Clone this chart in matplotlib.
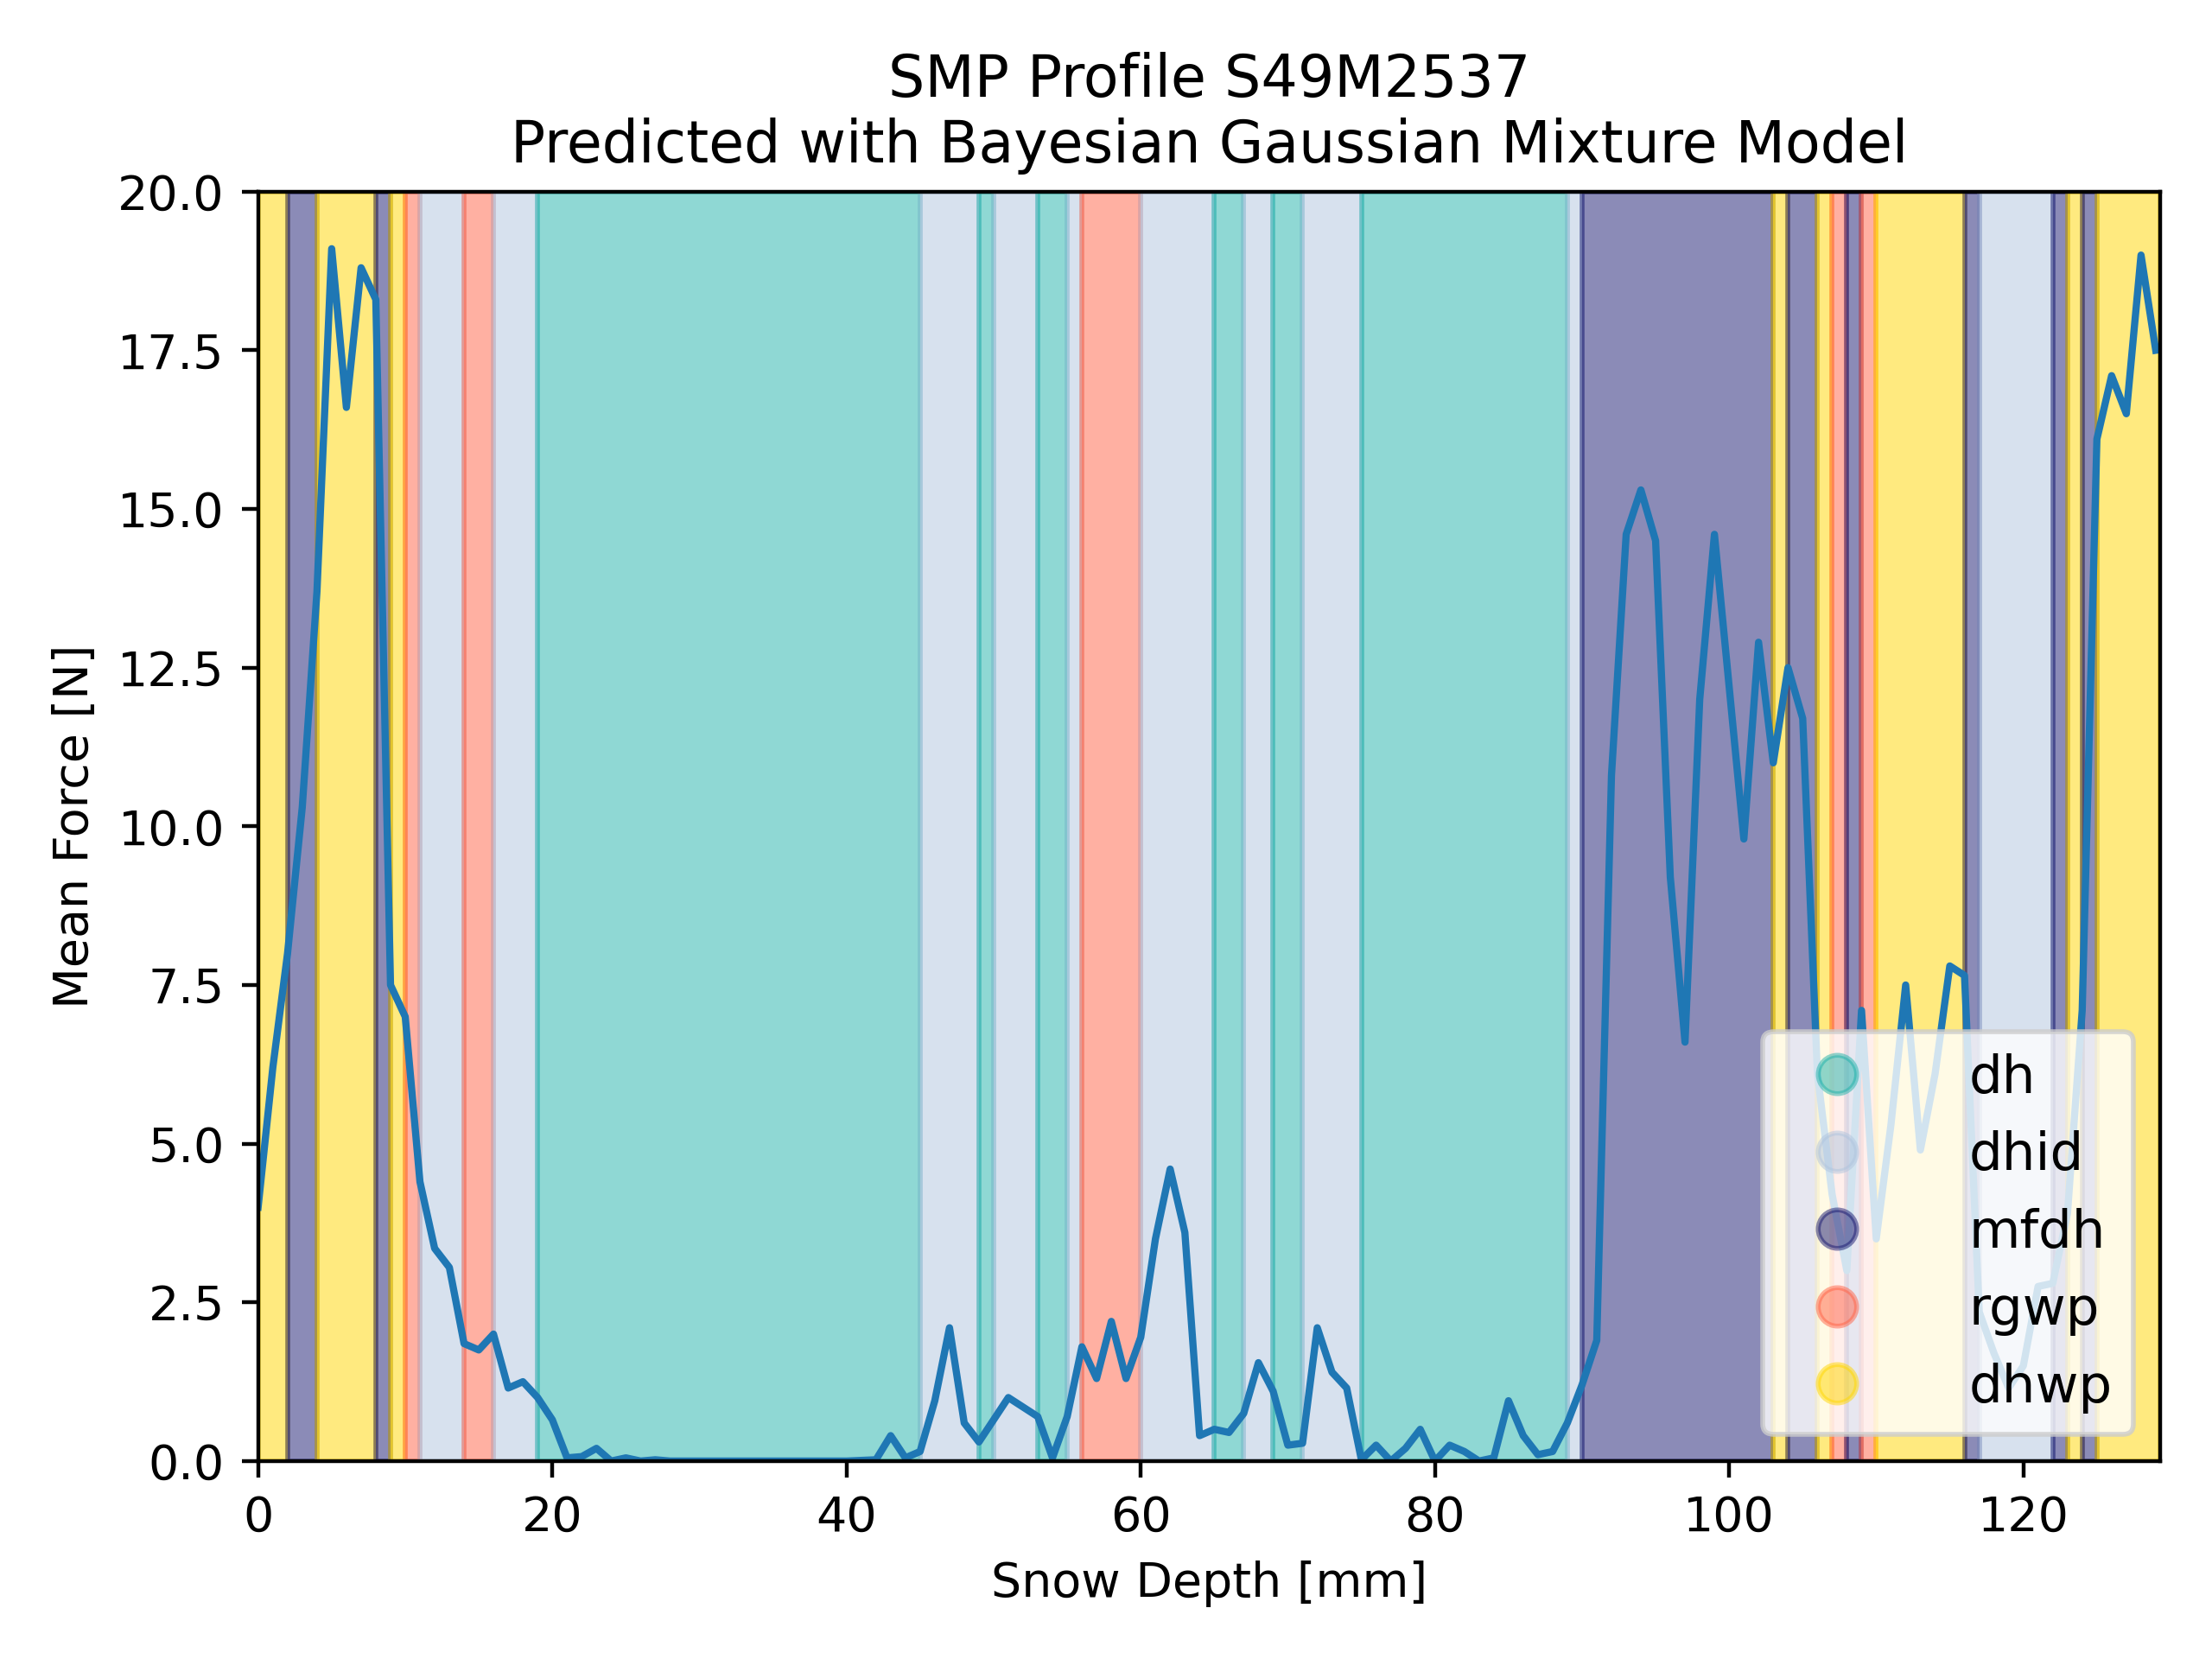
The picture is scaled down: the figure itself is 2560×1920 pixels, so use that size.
import matplotlib
matplotlib.use("Agg")
import matplotlib.pyplot as plt
from matplotlib.lines import Line2D

force = [4.0, 6.2, 8.0, 10.3, 13.7, 19.1, 16.6, 18.8, 18.3, 7.5,
         7.0, 4.4, 3.35, 3.05, 1.85, 1.75, 2.0, 1.15, 1.25, 1.0,
         0.65, 0.05, 0.07, 0.2, 0.0, 0.05, 0.0, 0.02, 0.0, 0.0,
         0.0, 0.0, 0.0, 0.0, 0.0, 0.0, 0.0, 0.0, 0.0, 0.0,
         0.0, 0.01, 0.02, 0.4, 0.05, 0.15, 0.95, 2.1, 0.6, 0.3,
         0.65, 1.0, 0.85, 0.7, 0.05, 0.7, 1.8, 1.3, 2.2, 1.3,
         1.95, 3.5, 4.6, 3.6, 0.4, 0.5, 0.45, 0.75, 1.55, 1.1,
         0.25, 0.28, 2.1, 1.4, 1.15, 0.02, 0.25, 0.0, 0.2, 0.5,
         0.0, 0.25, 0.15, 0.0, 0.05, 0.95, 0.4, 0.1, 0.15, 0.6,
         1.2, 1.9, 10.8, 14.6, 15.3, 14.5, 9.2, 6.6, 12.0, 14.6,
         12.2, 9.8, 12.9, 11.0, 12.5, 11.7, 6.1, 4.2, 3.0, 7.1,
         3.5, 5.3, 7.5, 4.9, 6.1, 7.8, 7.65, 2.35, 1.7, 1.15,
         1.5, 2.75, 2.8, 3.9, 7.1, 16.1, 17.1, 16.5, 19.0, 17.5]
depth = list(range(len(force)))

# segments: (start, end, label)
seg_start = [0, 2, 4, 8, 9, 10, 11, 14, 16, 19, 45, 49, 50, 53, 55, 56, 60, 65, 67, 69,
             71, 75, 89, 90, 103, 104, 106, 107, 108, 109, 110, 116, 117, 122, 123, 124, 125]
seg_end = seg_start[1:] + [129.3]
seg_label = ["dhwp", "mfdh", "dhwp", "mfdh", "dhwp", "rgwp", "dhid", "rgwp", "dhid", "dh",
             "dhid", "dh", "dhid", "dh", "dhid", "rgwp", "dhid", "dh", "dhid", "dh",
             "dhid", "dh", "dhid", "mfdh", "dhwp", "mfdh", "dhwp", "rgwp", "mfdh", "rgwp",
             "dhwp", "mfdh", "dhid", "mfdh", "dhwp", "mfdh", "dhwp"]

classes = ["dh", "dhid", "mfdh", "rgwp", "dhwp"]
colors = {"dh": "lightseagreen", "dhid": "lightsteelblue", "mfdh": "midnightblue",
          "rgwp": "tomato", "dhwp": "gold"}

fig, ax = plt.subplots(figsize=(6.4, 4.8), dpi=400)
for s, e, l in zip(seg_start, seg_end, seg_label):
    ax.axvspan(s, e, facecolor=colors[l], edgecolor=colors[l], alpha=0.5, linewidth=1)
ax.plot(depth, force, color="#1f77b4")
ax.set_xlim(0, 129.3)
ax.set_ylim(0, 20)
ax.set_xlabel("Snow Depth [mm]")
ax.set_ylabel("Mean Force [N]")
ax.set_title("SMP Profile S49M2537\nPredicted with Bayesian Gaussian Mixture Model")
handles = [Line2D([0], [0], marker="o", linestyle="", markersize=8, alpha=0.5,
                  markerfacecolor=colors[c], markeredgecolor=colors[c], label=c) for c in classes]
ax.legend(handles=handles, loc="lower right", fontsize=11, handletextpad=1.5)
fig.tight_layout()
fig.savefig("out.png", dpi=400)
